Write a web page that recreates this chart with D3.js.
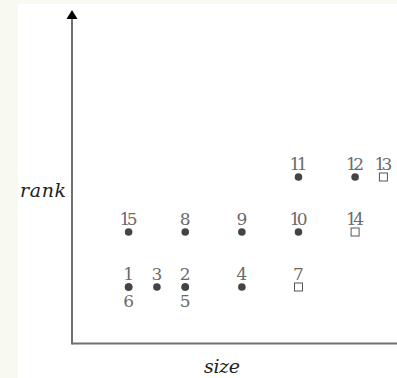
<!DOCTYPE html>
<html><head><meta charset="utf-8">
<script src="https://cdn.jsdelivr.net/npm/d3@7"></script>
<style>html,body{margin:0;padding:0;background:#f8faf1;}svg{display:block;}
.lbl{font-family:"DejaVu Serif","Liberation Serif",serif;}
</style>
</head><body>
<svg id="c" width="397" height="378"></svg>
<script>
// point ids, size (x), rank (y), shape, label side
const ids    = [1, 6, 3, 2, 5, 4, 7, 15, 8, 9, 10, 14, 11, 12, 13];
const sizes  = [1, 1, 1.5, 2, 2, 3, 4, 1, 2, 3, 4, 5, 4, 5, 5.5];
const ranks  = [1, 1, 1, 1, 1, 1, 1, 2, 2, 2, 2, 2, 3, 3, 3];
const shapes = ["dot","dot","dot","dot","dot","dot","square","dot","dot","dot","dot","square","dot","dot","square"];
const sides  = ["above","below","above","above","below","above","above","above","above","above","above","above","above","above","above"];
const xTitle = "size", yTitle = "rank";

const svg = d3.select("#c");
svg.append("rect").attr("x",18).attr("y",4).attr("width",379).attr("height",374).attr("fill","#fff");

const x = d3.scaleLinear().domain([0, 5.74]).range([72, 397]);
const y = d3.scaleLinear().domain([0, 1]).range([342, 287]);

const axisColor = "#707070";
svg.append("line").attr("x1",x(0)).attr("x2",397).attr("y1",343.5).attr("y2",343.5)
  .attr("stroke",axisColor).attr("stroke-width",2);
svg.append("line").attr("x1",x(0)).attr("x2",x(0)).attr("y1",344.5).attr("y2",17)
  .attr("stroke",axisColor).attr("stroke-width",2);
svg.append("path").attr("d",`M${x(0)},10 L${x(0)-5.5},19 L${x(0)+5.5},19 Z`).attr("fill","#000");

const data = ids.map((id,i)=>({id, s:sizes[i], r:ranks[i], shape:shapes[i], side:sides[i]}));
data.forEach(d=>{
  const cx = x(d.s), cy = y(d.r);
  if (d.shape==="dot") {
    svg.append("circle").attr("cx",cx).attr("cy",cy).attr("r",3.8).attr("fill","#444");
  } else {
    svg.append("rect").attr("x",cx-4).attr("y",cy-4).attr("width",8).attr("height",8)
      .attr("fill","#fff").attr("stroke","#555").attr("stroke-width",1);
  }
  svg.append("text").attr("class","lbl").attr("x",cx).attr("y", d.side==="above" ? cy-7 : cy+20)
    .attr("text-anchor","middle").style("font-size","17px").style("font-weight","300").attr("fill","#6a6a6a")
    .attr("textLength", String(d.id).length>1 ? 18 : null).text(d.id);
});

svg.append("text").attr("class","lbl").attr("x",222).attr("y",373).attr("text-anchor","middle")
  .style("font-style","italic").style("font-size","19px").attr("fill","#222")
  .attr("textLength",36).text(xTitle);
svg.append("text").attr("class","lbl").attr("x",66).attr("y",197).attr("text-anchor","end")
  .style("font-style","italic").style("font-size","19px").attr("fill","#222")
  .attr("textLength",46).text(yTitle);
</script>
</body></html>
